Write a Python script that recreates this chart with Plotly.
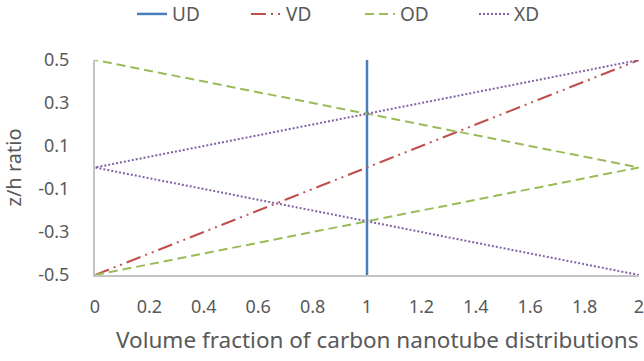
import plotly.graph_objects as go

# z/h position through the thickness and the matching CNT volume fraction
z_UD = [-0.5, 0.5]
vf_UD = [1, 1]

z_VD = [-0.5, 0.5]
vf_VD = [0, 2]

z_OD = [-0.5, 0, 0.5]
vf_OD = [0, 2, 0]

z_XD = [-0.5, 0, 0.5]
vf_XD = [2, 0, 2]

x_ticks = [0, 0.2, 0.4, 0.6, 0.8, 1, 1.2, 1.4, 1.6, 1.8, 2]
x_labels = ["0", "0.2", "0.4", "0.6", "0.8", "1", "1.2", "1.4", "1.6", "1.8", "2"]
y_ticks = [-0.5, -0.3, -0.1, 0.1, 0.3, 0.5]
y_labels = ["-0.5", "-0.3", "-0.1", "0.1", "0.3", "0.5"]

x_title = "Volume fraction of carbon nanotube distributions"
y_title = "z/h ratio"

FONT = "Noto Sans"
TXT = "#595959"

fig = go.Figure()
fig.add_trace(go.Scatter(x=vf_UD, y=z_UD, mode="lines", name="UD",
                         line=dict(color="#4A7EBB", width=2.5)))
fig.add_trace(go.Scatter(x=vf_VD, y=z_VD, mode="lines", name="VD",
                         line=dict(color="#C0504D", width=2,
                                   dash="15px,5px,2px,5px,2px,5px")))
fig.add_trace(go.Scatter(x=vf_OD, y=z_OD, mode="lines", name="OD",
                         line=dict(color="#9BBB59", width=2, dash="9px,5px")))
fig.add_trace(go.Scatter(x=vf_XD, y=z_XD, mode="lines", name="XD",
                         line=dict(color="#8064A2", width=2, dash="2px,2px")))

# x-axis title sits centred under the whole chart area
fig.add_annotation(text=x_title, xref="paper", yref="paper",
                   x=0.518, y=-0.302, xanchor="center", yanchor="middle",
                   showarrow=False, font=dict(size=22.5, color=TXT))

fig.update_layout(
    width=644, height=361,
    margin=dict(l=95, r=5, t=60, b=86, autoexpand=False),
    paper_bgcolor="white", plot_bgcolor="white",
    font=dict(family=FONT, color=TXT, size=18),
    legend=dict(orientation="h", xref="container", yref="container",
                x=0.559, xanchor="center", y=0.961, yanchor="middle",
                font=dict(size=19, color=TXT), entrywidth=69,
                entrywidthmode="pixels", tracegroupgap=0),
    xaxis=dict(range=[0, 2], tickvals=x_ticks, ticktext=x_labels,
               showgrid=False, zeroline=False, showline=True,
               linecolor="#C4C4C4", linewidth=2, ticks="",
               tickfont=dict(size=18, color=TXT), ticklabelstandoff=14,
               ticklabeloverflow="allow"),
    yaxis=dict(range=[-0.5, 0.5], tickvals=y_ticks, ticktext=y_labels,
               showgrid=False, zeroline=False, showline=True,
               linecolor="#C4C4C4", linewidth=2, ticks="",
               tickfont=dict(size=18, color=TXT), ticklabelstandoff=20,
               title=dict(text=y_title, font=dict(size=20, color=TXT),
                          standoff=12)),
)

fig.write_html("out.html")
